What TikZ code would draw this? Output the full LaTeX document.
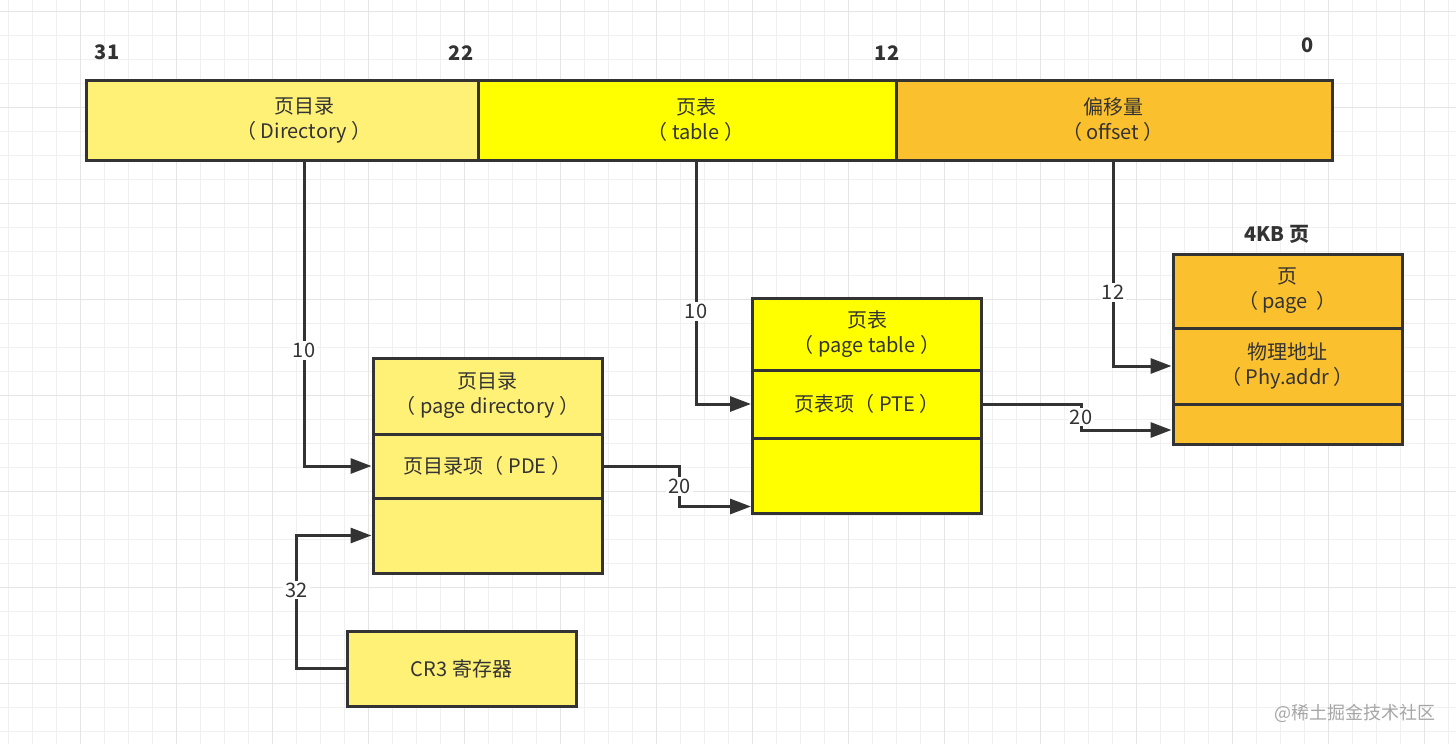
\documentclass[tikz,border=0pt]{standalone}
\usepackage{fontspec}
\setmainfont{Noto Sans CJK SC}
\usetikzlibrary{arrows.meta}
\definecolor{pdyellow}{HTML}{FFF176}
\definecolor{ptyellow}{HTML}{FFFF00}
\definecolor{pgorange}{HTML}{FBC02D}
\definecolor{ink}{HTML}{333333}
\begin{document}
\begin{tikzpicture}
    [
        x=1pt, y=1pt,
        field/.style={rectangle, draw=ink, line width=3pt, minimum height=80pt, inner sep=0pt},
        cell/.style={rectangle, draw=ink, line width=3pt, minimum width=229pt, inner sep=0pt, align=center, text=ink, font=\fontsize{20}{25}\selectfont},
        txt/.style={align=center, text=ink, font=\fontsize{20}{25}\selectfont},
        bit/.style={text=ink, font=\fontsize{20}{23}\selectfont\bfseries},
        num/.style={fill=white, inner sep=2pt, text=ink, font=\fontsize{20}{23}\selectfont},
        link/.style={draw=ink, line width=3pt, -{Triangle[length=21pt,width=15pt]}},
        gridminor/.style={draw=black!6, line width=1pt},
        gridmajor/.style={draw=black!10, line width=1pt},
    ]
    \useasboundingbox (0,0) rectangle (1456,-744);
    \fill[white] (0,0) rectangle (1456,-744);
    \foreach \gx in {8,32,...,1448} \draw[gridminor] (\gx,0) -- (\gx,-744);
    \foreach \gy in {11,35,...,731} \draw[gridminor] (0,-\gy) -- (1456,-\gy);
    \foreach \gx in {80,176,...,1424} \draw[gridmajor] (\gx,0) -- (\gx,-744);
    \foreach \gy in {11,107,...,683} \draw[gridmajor] (0,-\gy) -- (1456,-\gy);

    \node (b31) at (107,-52) [bit] {31};
    \node (b22) at (461,-53) [bit] {22};
    \node (b12) at (887,-53) [bit] {12};
    \node (b0) at (1308,-45) [bit] {0};
    \node (dir) at (282,-120) [field, fill=pdyellow, minimum width=392pt] {};
    \node (tbl) at (687,-120) [field, fill=ptyellow, minimum width=418pt] {};
    \node (off) at (1114,-120) [field, fill=pgorange, minimum width=436pt] {};
    \node (dirtext) at (304,-120) [txt] {页目录\\（ Directory ）};
    \node (tbltext) at (696,-120) [txt] {页表\\（ table ）};
    \node (offtext) at (1113,-120) [txt] {偏移量\\（ offset ）};

    \node (pdhead) at (487.5,-396) [cell, fill=pdyellow, minimum height=76pt] {页目录\\（ page directory ）};
    \node (pde) at (487.5,-466) [cell, fill=pdyellow, minimum height=64pt] {页目录项（ PDE ）};
    \node (pdfree) at (487.5,-535.5) [cell, fill=pdyellow, minimum height=75pt] {};
    \node (pthead) at (867,-334) [cell, fill=ptyellow, minimum height=72pt] {页表\\（ page table ）};
    \node (pte) at (867,-404) [cell, fill=ptyellow, minimum height=68pt] {页表项（ PTE ）};
    \node (ptfree) at (867,-475.5) [cell, fill=ptyellow, minimum height=75pt] {};
    \node (pgtitle) at (1277,-234) [bit] {4KB 页};
    \node (pghead) at (1287.5,-291) [cell, fill=pgorange, minimum height=74pt] {页\\（ page~ ）};
    \node (pgaddr) at (1287.5,-366) [cell, fill=pgorange, minimum height=76pt] {物理地址\\（ Phy.addr ）};
    \node (pgfree) at (1287.5,-424) [cell, fill=pgorange, minimum height=40pt] {};
    \node (cr3) at (461.5,-668.5) [cell, fill=pdyellow, minimum height=75pt] {CR3 寄存器};
    \node (mark) at (1355,-713) [text=black!35, font=\fontsize{18}{22}\selectfont] {@稀土掘金技术社区};

    \draw[link] (dirtext |- dir.south) |- node[num, pos=0.31] {10} (pde.west);
    \draw[link] (tbltext |- tbl.south) |- node[num, pos=0.31] {10} (pte.west);
    \draw[link] (offtext |- off.south) |- node[num, pos=0.32] {12} (pgaddr.west);
    \draw[link] (cr3.west) -| node[num, pos=0.795] {32} ([xshift=-75pt]pdfree.west) -- (pdfree.west);
    \draw[link] (pde.east) -- ++(76,0) |- node[num, pos=0.25] {20} ([yshift=-31pt]ptfree.west);
    \draw[link] (pte.east) -- ++(98,0) |- node[num, pos=0.25] {20} ([yshift=-6pt]pgfree.west);
\end{tikzpicture}
\end{document}
